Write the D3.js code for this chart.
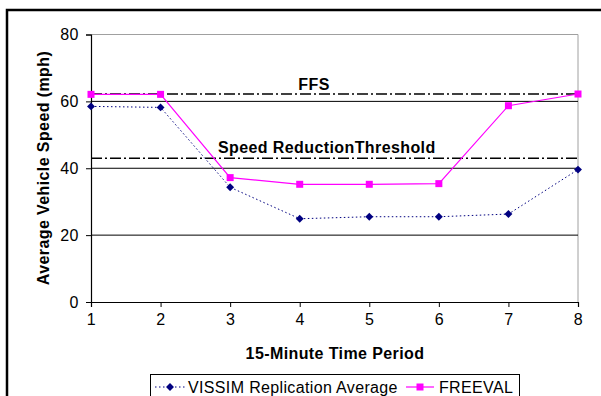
<!DOCTYPE html>
<html>
<head>
<meta charset="utf-8">
<style>
  body { margin: 0; background: #fff; }
  svg { font-family: "Liberation Sans", Arial, sans-serif; }
</style>
</head>
<body>
<svg width="601" height="396"></svg>
<script src="https://d3js.org/d3.v7.min.js"></script>
<script>
// data
var periods = [1, 2, 3, 4, 5, 6, 7, 8];
var vissim = [58.5, 58.2, 34.3, 24.9, 25.5, 25.5, 26.3, 39.6];
var freeval = [62.1, 62.1, 37.2, 35.2, 35.2, 35.4, 58.7, 62.2];
var yTicks = [0, 20, 40, 60, 80];
var ffs = 62.2;
var threshold = 43.0;

var svg = d3.select("svg");

// outer frame
svg.append("rect")
    .attr("x", 7).attr("y", 10)
    .attr("width", 620).attr("height", 420)
    .attr("fill", "none")
    .attr("stroke", "#000")
    .attr("stroke-width", 2.5);

var x = d3.scaleLinear().domain([1, 8]).range([91, 578]);
var y = d3.scaleLinear().domain([0, 80]).range([302, 34.5]);

// plot area border (top/right gray)
svg.append("path")
    .attr("d", "M" + x(1) + "," + y(80) + "H" + x(8) + "V" + y(0))
    .attr("fill", "none")
    .attr("stroke", "#a0a0a0")
    .attr("stroke-width", 1);

// gridlines
svg.selectAll(".grid")
    .data([20, 40, 60])
    .enter().append("line")
      .attr("x1", x(1)).attr("x2", x(8))
      .attr("y1", function(d) { return y(d); })
      .attr("y2", function(d) { return y(d); })
      .attr("stroke", "#000")
      .attr("stroke-width", 1);

// axes
var yAxis = svg.append("g")
    .attr("transform", "translate(" + x(1) + ",0)")
    .call(d3.axisLeft(y).tickValues(yTicks).tickFormat(d3.format("d")).tickSize(5).tickPadding(7));
var xAxis = svg.append("g")
    .attr("transform", "translate(0," + y(0) + ")")
    .call(d3.axisBottom(x).tickValues(periods).tickFormat(d3.format("d")).tickSize(5).tickPadding(7));

[yAxis, xAxis].forEach(function(a) {
  a.select(".domain").attr("stroke", "#000").attr("stroke-width", 1.2);
  a.selectAll(".tick line").attr("stroke", "#000");
  a.selectAll("text")
      .attr("fill", "#000")
      .style("font-size", "16px")
      .style("letter-spacing", "0.5px")
      .style("font-family", "'Liberation Sans', Arial, sans-serif");
});

// reference lines
var dash = "11,3,2,3";
[ffs, threshold].forEach(function(v) {
  svg.append("line")
      .attr("x1", x(1)).attr("x2", x(8))
      .attr("y1", y(v)).attr("y2", y(v))
      .attr("stroke", "#000")
      .attr("stroke-width", 1.6)
      .attr("stroke-dasharray", dash);
});

svg.append("text")
    .attr("x", 314).attr("y", 90)
    .attr("text-anchor", "middle")
    .style("font-size", "16px").style("font-weight", "bold")
    .style("letter-spacing", "0.4px")
    .text("FFS");
svg.append("text")
    .attr("x", 218).attr("y", 153)
    .style("font-size", "16px").style("font-weight", "bold")
    .style("letter-spacing", "0.4px")
    .text("Speed ReductionThreshold");

// series
var line = d3.line()
    .x(function(d, i) { return x(periods[i]); })
    .y(function(d) { return y(d); });

svg.append("path")
    .datum(vissim)
    .attr("d", line)
    .attr("fill", "none")
    .attr("stroke", "#000080")
    .attr("stroke-width", 1)
    .attr("stroke-dasharray", "1.5,2.5");

svg.append("path")
    .datum(freeval)
    .attr("d", line)
    .attr("fill", "none")
    .attr("stroke", "#ff00ff")
    .attr("stroke-width", 1.2);

var diamond = d3.symbol().type(d3.symbolDiamond2).size(40);

svg.selectAll(".vpt")
    .data(vissim)
    .enter().append("path")
      .attr("d", diamond)
      .attr("transform", function(d, i) { return "translate(" + x(periods[i]) + "," + y(d) + ")"; })
      .attr("fill", "#000080");

svg.selectAll(".fpt")
    .data(freeval)
    .enter().append("rect")
      .attr("x", function(d, i) { return x(periods[i]) - 3.5; })
      .attr("y", function(d) { return y(d) - 3.5; })
      .attr("width", 7).attr("height", 7)
      .attr("fill", "#ff00ff");

// axis titles
svg.append("text")
    .attr("x", 335).attr("y", 359)
    .attr("text-anchor", "middle")
    .style("font-size", "16px").style("font-weight", "bold")
    .style("letter-spacing", "0.4px")
    .text("15-Minute Time Period");

svg.append("text")
    .attr("transform", "translate(49,168) rotate(-90)")
    .attr("text-anchor", "middle")
    .style("font-size", "16px").style("font-weight", "bold")
    .style("letter-spacing", "0.4px")
    .text("Average Vehicle Speed (mph)");

// legend
var lg = svg.append("g");
lg.append("rect")
    .attr("x", 150.5).attr("y", 374.5)
    .attr("width", 369).attr("height", 30)
    .attr("fill", "#fff")
    .attr("stroke", "#000")
    .attr("stroke-width", 1);

lg.append("line")
    .attr("x1", 155).attr("x2", 185).attr("y1", 387).attr("y2", 387)
    .attr("stroke", "#000080").attr("stroke-dasharray", "1.5,2.5");
lg.append("path")
    .attr("d", diamond)
    .attr("transform", "translate(170,387)")
    .attr("fill", "#000080");
lg.append("text")
    .attr("x", 188).attr("y", 393)
    .style("font-size", "16px")
    .style("letter-spacing", "0.35px")
    .text("VISSIM Replication Average");

lg.append("line")
    .attr("x1", 406).attr("x2", 434).attr("y1", 387).attr("y2", 387)
    .attr("stroke", "#ff00ff").attr("stroke-width", 1.2);
lg.append("rect")
    .attr("x", 416.5).attr("y", 383.5)
    .attr("width", 7).attr("height", 7)
    .attr("fill", "#ff00ff");
lg.append("text")
    .attr("x", 439).attr("y", 393)
    .style("font-size", "16px")
    .style("letter-spacing", "0.35px")
    .text("FREEVAL");
</script>
</body>
</html>
